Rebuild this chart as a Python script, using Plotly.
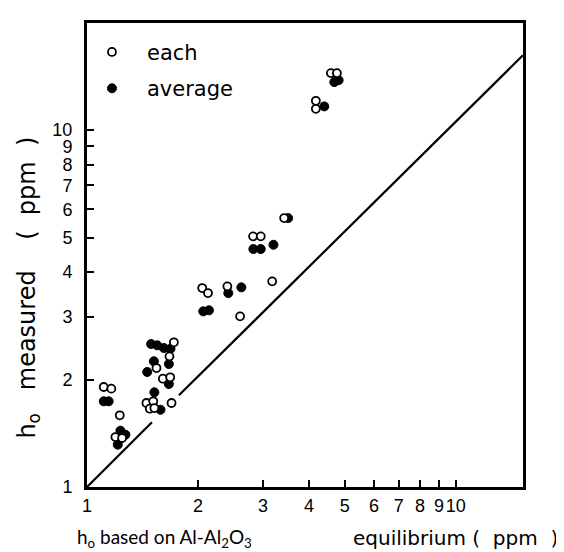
import plotly.graph_objects as go

# "each" (open circles)
each_x = [1.110, 1.164, 1.227, 1.194, 1.245, 2.053, 2.128, 2.402, 2.600, 2.820, 2.958,
          3.177, 3.424, 1.720, 1.673, 1.543, 1.606, 1.681, 1.449, 1.512, 1.480, 1.523,
          1.695, 4.583, 4.759, 4.173, 4.173]
each_y = [1.906, 1.886, 1.588, 1.380, 1.372, 3.609, 3.494, 3.649, 3.007, 5.038, 5.038,
          3.768, 5.668, 2.543, 2.323, 2.154, 2.011, 2.029, 1.719, 1.738, 1.657, 1.664,
          1.719, 14.44, 14.44, 12.08, 11.47]

# "average" (filled circles)
avg_x = [1.110, 1.145, 1.232, 1.271, 1.212, 2.066, 2.141, 2.416, 2.621, 2.825, 2.958,
         3.203, 3.511, 1.492, 1.550, 1.616, 1.684, 1.518, 1.456, 1.667, 1.667, 1.523,
         1.582, 4.682, 4.810, 4.398]
avg_y = [1.738, 1.738, 1.438, 1.401, 1.314, 3.105, 3.126, 3.494, 3.625, 4.642, 4.642,
         4.772, 5.668, 2.515, 2.494, 2.451, 2.440, 2.250, 2.100, 2.211, 1.943, 1.842,
         1.646, 13.63, 13.80, 11.65]

# reference line (drawn with a small gap, as in the original)
line_x = [1.0, 1.50, None, 1.775, 15.2]
line_y = [1.0, 1.519, None, 1.807, 16.2]

tick_vals = [1, 2, 3, 4, 5, 6, 7, 8, 9, 10]
tick_text = ["1", "2", "3", "4", "5", "6", "7", "8", "9", "10"]

fig = go.Figure()
fig.add_trace(go.Scatter(x=line_x, y=line_y, mode="lines",
                         line=dict(color="black", width=2.2),
                         showlegend=False, hoverinfo="skip"))
fig.add_trace(go.Scatter(x=avg_x, y=avg_y, mode="markers", name="average",
                         legendgroup="b", legendrank=2,
                         marker=dict(symbol="circle", size=9, color="black",
                                     line=dict(color="black", width=1))))
fig.add_trace(go.Scatter(x=each_x, y=each_y, mode="markers", name="each",
                         legendgroup="a", legendrank=1,
                         marker=dict(symbol="circle", size=8, color="white",
                                     line=dict(color="black", width=1.8))))

axis_common = dict(
    type="log", tickmode="array", tickvals=tick_vals, ticktext=tick_text,
    tickangle=0,
    showgrid=False, zeroline=False, showline=True, mirror=True,
    linecolor="black", linewidth=3, ticks="inside", ticklen=7, tickwidth=2,
    tickcolor="black", tickfont=dict(family="Liberation Sans, Arial", size=18,
                                     color="black"),
)
fig.update_xaxes(range=[0, 1.182], **axis_common)
fig.update_yaxes(range=[0, 1.30], ticklabelstandoff=8, **axis_common)

fig.update_layout(
    width=564, height=552,
    margin=dict(l=79, r=49, t=15, b=73),
    paper_bgcolor="white", plot_bgcolor="white",
    showlegend=True,
    legend=dict(x=-0.023, y=0.981, xanchor="left", yanchor="top",
                traceorder="grouped", tracegroupgap=6, itemwidth=60,
                bgcolor="rgba(0,0,0,0)",
                font=dict(family="DejaVu Sans", size=21, color="black")),
    annotations=[
        dict(text="h<sub>o</sub>   measured    (  ppm  )", textangle=-90,
             xref="paper", yref="paper", x=-0.135, y=0.43, xanchor="center",
             yanchor="middle", showarrow=False,
             font=dict(family="DejaVu Sans", size=24, color="black")),
        dict(text="h<sub>o</sub> based on Al-Al<sub>2</sub>O<sub>3</sub>",
             xref="paper", yref="paper", x=-0.028, y=-0.11, xanchor="left",
             yanchor="middle", showarrow=False,
             font=dict(family="Lato, Noto Sans", size=19, color="black")),
        dict(text="equilibrium (  ppm  )",
             xref="paper", yref="paper", x=0.605, y=-0.11, xanchor="left",
             yanchor="middle", showarrow=False,
             font=dict(family="DejaVu Sans", size=20, color="black")),
    ],
)

fig.write_html("out.html")
